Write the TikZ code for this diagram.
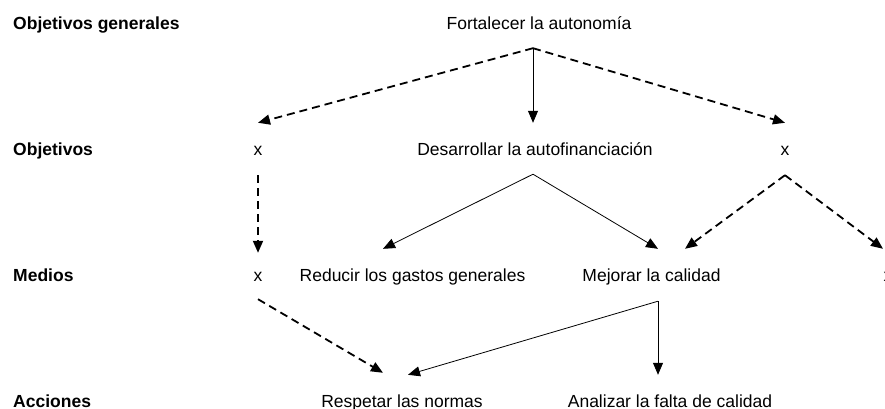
\documentclass[tikz,border=0pt]{standalone}
\usepackage{fontspec}
\setmainfont{Liberation Sans}
\usetikzlibrary{arrows.meta}
\begin{document}
\begin{tikzpicture}[x=1pt,y=-1pt,
  lbl/.style={font=\fontsize{17.5pt}{21pt}\selectfont\bfseries, anchor=base west, inner sep=0pt},
  item/.style={font=\fontsize{17.5pt}{21pt}\selectfont, anchor=base, inner xsep=0pt, inner ysep=19pt, text height=13pt, text depth=4pt},
  sol/.style={line width=0.8pt, -{Triangle[length=12pt,width=10pt]}},
  dsh/.style={line width=1.8pt, dash pattern=on 8pt off 5pt, -{Triangle[length=12pt,width=10pt]}},
]
\useasboundingbox (0,0) rectangle (885,409);
\clip (0,0) rectangle (885,409);
% row labels
\node[lbl] (lg) at (13,30) {Objetivos generales};
\node[lbl] (lo) at (13,155) {Objetivos};
\node[lbl] (lm) at (13,281) {Medios};
\node[lbl] (la) at (13,407) {Acciones};
% items
\node[item] (fort) at (539,30) {Fortalecer la autonom\'ia};
\node[item] (x1) at (258,155) {x};
\node[item] (desa) at (535,155) {Desarrollar la autofinanciaci\'on};
\node[item] (x2) at (785,155) {x};
\node[item] (xm1) at (258,281) {x};
\node[item] (red) at (412.5,281) {Reducir los gastos generales};
\node[item] (mej) at (651.5,281) {Mejorar la calidad};
\node[item] (xm2) at (888,281) {x};
\node[item] (resp) at (402,407) {Respetar las normas};
\node[item] (anal) at (670,407) {Analizar la falta de calidad};
% branching points
\coordinate (A1) at ([xshift=-6pt,yshift=5pt]fort.south);
\coordinate (A2) at ([xshift=-2pt,yshift=4pt]desa.south);
\coordinate (A3) at ([yshift=3pt]x2.south);
\coordinate (A4) at ([xshift=6.5pt,yshift=3pt]mej.south);
% connectors
\draw[dsh] (A1) -- (x1.north);
\draw[sol] (A1) -- (A1 |- desa.north);
\draw[dsh] (A1) -- (x2.north);
\draw[sol] (A2) -- ([xshift=-29.5pt]red.north);
\draw[sol] (A2) -- ([xshift=6.5pt]mej.north);
\draw[dsh] (A3) -- ([xshift=33.5pt]mej.north);
\draw[dsh] (A3) -- ([xshift=-5pt]xm2.north);
\draw[dsh] ([yshift=3pt]x1.south) -- ([yshift=-4pt]xm1.north);
\draw[dsh] ([yshift=5pt]xm1.south) -- ([xshift=-19pt,yshift=2pt]resp.north);
\draw[sol] (A4) -- ([xshift=6pt]resp.north);
\draw[sol] (A4) -- (A4 |- anal.north);
\end{tikzpicture}
\end{document}
